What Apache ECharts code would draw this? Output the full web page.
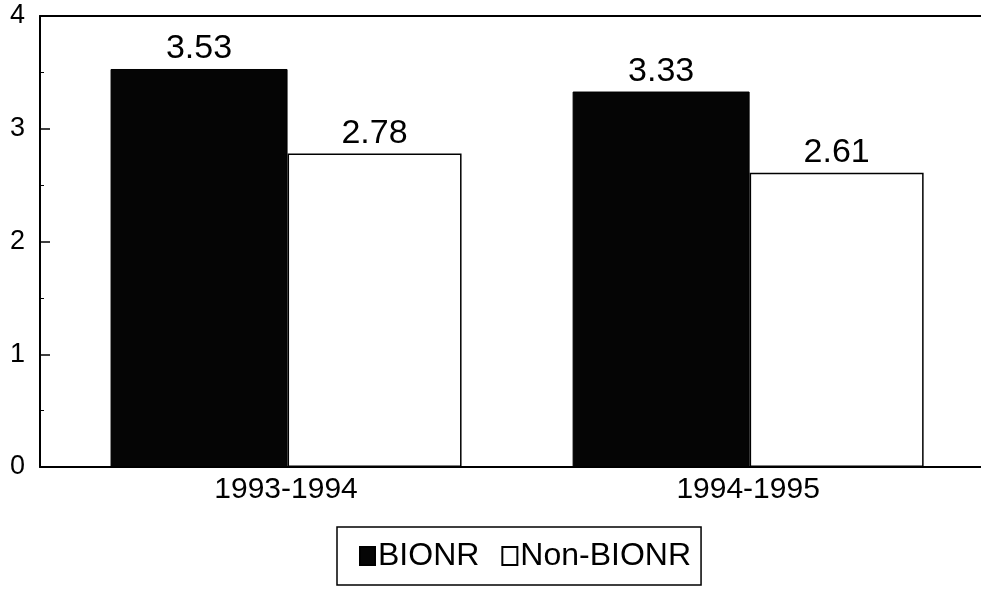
<!DOCTYPE html>
<html lang="en">
<head>
    <meta charset="UTF-8">
    <title>BIONR</title>
    <script src="https://cdn.jsdelivr.net/npm/echarts@6/dist/echarts.min.js"></script>
</head>
<body style="margin:0;background:#fff;">
<div id="main" style="width: 981px;height:592px;"></div>
<script>
    // data
    var periods = ['1993-1994', '1994-1995'];
    var periodPos = [1, 2];
    var bionr = [3.53, 3.33];
    var nonBionr = [2.78, 2.61];
    var yTicks = [0, 1, 2, 3, 4];

    var font = 'Liberation Sans, Arial, sans-serif';

    function pairs(vals) {
        var out = [];
        for (var i = 0; i < vals.length; i++) {
            out.push([periodPos[i], vals[i]]);
        }
        return out;
    }

    var myChart = echarts.init(document.getElementById('main'));

    var labelStyle = {
        show: true,
        position: 'top',
        distance: 3,
        color: '#000',
        fontSize: 34,
        fontFamily: font,
        formatter: function (p) { return p.value[1].toFixed(2); }
    };

    var option = {
        animation: false,
        backgroundColor: '#fff',
        grid: { left: 40, top: 16, right: 0, bottom: 125 },
        legend: {
            left: 337, top: 527,
            orient: 'horizontal',
            icon: 'rect',
            itemWidth: 15, itemHeight: 18, itemGap: 22,
            padding: [13, 10, 13, 22],
            borderColor: '#000', borderWidth: 1.5,
            backgroundColor: '#fff',
            textStyle: { color: '#000', fontSize: 32, fontFamily: font, padding: [0, 0, 0, -2] },
            data: ['BIONR', 'Non-BIONR']
        },
        xAxis: [
            {
                type: 'value',
                min: 0.4675, max: 2.504,
                axisLine: { show: true, lineStyle: { color: '#000', width: 2 } },
                axisTick: { show: false },
                splitLine: { show: false },
                axisLabel: {
                    customValues: periodPos,
                    color: '#000', fontSize: 30, fontFamily: font, margin: 8,
                    formatter: function (v) {
                        var i = periodPos.indexOf(Math.round(v));
                        return i >= 0 ? periods[i] : '';
                    }
                }
            },
            {
                // top frame line
                type: 'value',
                position: 'top',
                min: 0.4675, max: 2.504,
                axisLine: { show: true, lineStyle: { color: '#000', width: 2 } },
                axisTick: { show: false },
                axisLabel: { show: false },
                splitLine: { show: false }
            }
        ],
        yAxis: {
            type: 'value',
            min: yTicks[0], max: yTicks[yTicks.length - 1], interval: 1,
            axisLine: { show: true, lineStyle: { color: '#000', width: 2 } },
            axisTick: { show: true, inside: true, length: 10, lineStyle: { color: '#000', width: 1.5 } },
            minorTick: { show: true, splitNumber: 2, length: 4, lineStyle: { color: '#000', width: 1 } },
            splitLine: { show: false },
            axisLabel: { color: '#000', fontSize: 27, fontFamily: font, margin: 15 }
        },
        series: [
            {
                name: 'BIONR',
                type: 'bar',
                data: pairs(bionr),
                barWidth: 177,
                barGap: '0%',
                itemStyle: { color: '#050505', borderColor: '#000', borderWidth: 1 },
                label: labelStyle
            },
            {
                name: 'Non-BIONR',
                type: 'bar',
                data: pairs(nonBionr),
                barWidth: 174,
                barGap: '0%',
                itemStyle: { color: '#fff', borderColor: '#000', borderWidth: 1.5 },
                label: labelStyle
            }
        ]
    };

    myChart.setOption(option);
</script>
</body>
</html>
